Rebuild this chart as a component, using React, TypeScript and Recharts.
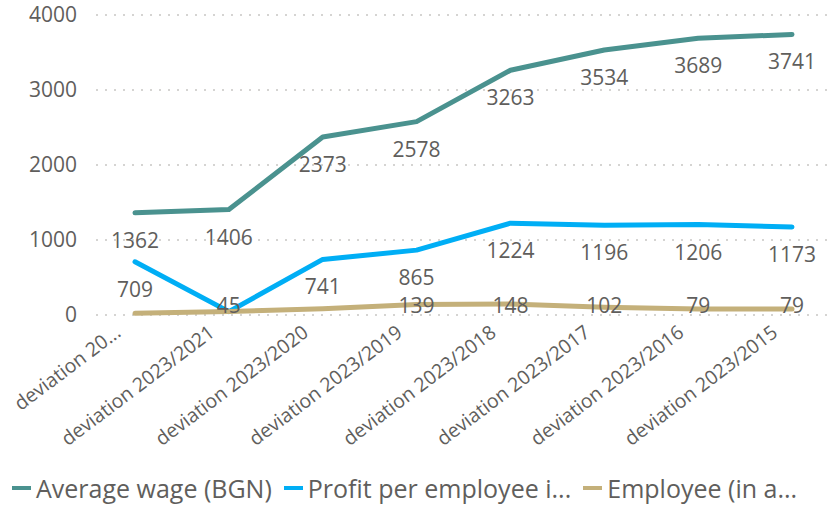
import { LineChart, Line, XAxis, YAxis, CartesianGrid, Legend, LabelList } from 'recharts'

// values
const categories = [
  'deviation 20...',
  'deviation 2023/2021',
  'deviation 2023/2020',
  'deviation 2023/2019',
  'deviation 2023/2018',
  'deviation 2023/2017',
  'deviation 2023/2016',
  'deviation 2023/2015',
]
const averageWage = [1362, 1406, 2373, 2578, 3263, 3534, 3689, 3741]
const profitPerEmployee = [709, 45, 741, 865, 1224, 1196, 1206, 1173]
const employees = [22, 48, 82, 139, 148, 102, 79, 79]
const yTicks = [0, 1000, 2000, 3000, 4000]

const seriesNames = ['Average wage (BGN)', 'Profit per employee i...', 'Employee (in a...']
const seriesColors = ['#4A928F', '#00AEF5', '#C4B07A']
// labels Power BI dropped because they collided
const hiddenEmployeeLabels = [0, 1, 2]

const data = categories.map((name, i) => ({
  name,
  wage: averageWage[i],
  profit: profitPerEmployee[i],
  employees: employees[i],
}))

const FONT = "'Segoe UI', 'Open Sans', sans-serif"
const TEXT = '#605E5C'
const PLOT_BOTTOM = 315

function makeLabel(hidden: number[] = []) {
  return (props: any) => {
    const { value, index } = props
    const x = props.x ?? props.viewBox?.x
    const y = props.y ?? props.viewBox?.y
    if (hidden.includes(index) || x == null || y == null) return null
    // labels sit below the point, pushed up if they'd fall past the axis
    const ly = Math.min(y + 27, PLOT_BOTTOM - 10)
    return (
      <text x={x} y={ly} textAnchor="middle" dominantBaseline="central" fill={TEXT} fontSize={21} fontFamily={FONT}>
        {value}
      </text>
    )
  }
}

function XTick({ x, y, payload }: any) {
  return (
    <text
      transform={`translate(${x - 13},${y + 20}) rotate(-37)`}
      textAnchor="end"
      fill={TEXT}
      fontSize={19.5}
      fontFamily={FONT}
    >
      {payload.value}
    </text>
  )
}

function LegendContent() {
  return (
    <div style={{ height: 42, display: 'flex', alignItems: 'center', paddingLeft: 12, paddingTop: 4, boxSizing: 'border-box', fontFamily: FONT, fontSize: 25, color: TEXT, whiteSpace: 'nowrap' }}>
      {seriesNames.map((name, i) => (
        <div key={name} style={{ display: 'flex', alignItems: 'center', marginRight: 12 }}>
          <span style={{ display: 'inline-block', width: 19, height: 4, background: seriesColors[i], marginRight: 5 }} />
          <span>{name}</span>
        </div>
      ))}
    </div>
  )
}

export default function App() {
  return (
    <div style={{ position: 'absolute', left: 0, top: 0, width: 839, height: 507, background: '#fff' }}>
      <LineChart width={839} height={507} data={data} margin={{ top: 15, right: 11, bottom: 0, left: 0 }}>
        <CartesianGrid vertical={false} stroke="#C8C6C4" strokeDasharray="2 7" strokeWidth={1.5} />
        <XAxis
          dataKey="name"
          padding={{ left: 39, right: 36 }}
          axisLine={false}
          tickLine={false}
          tickSize={0}
          tickMargin={0}
          height={150}
          interval={0}
          tick={<XTick />}
        />
        <YAxis
          domain={[0, 4000]}
          ticks={yTicks}
          width={96}
          axisLine={false}
          tickLine={false}
          tickMargin={13}
          tick={{ fill: TEXT, fontSize: 21, fontFamily: FONT }}
        />
        <Legend verticalAlign="bottom" content={<LegendContent />} />
        <Line dataKey="wage" name={seriesNames[0]} stroke={seriesColors[0]} strokeWidth={5} dot={false} isAnimationActive={false} strokeLinejoin="round" strokeLinecap="round" />
        <Line dataKey="profit" name={seriesNames[1]} stroke={seriesColors[1]} strokeWidth={5} dot={false} isAnimationActive={false} strokeLinejoin="round" strokeLinecap="round" />
        <Line dataKey="employees" name={seriesNames[2]} stroke={seriesColors[2]} strokeWidth={5} dot={false} isAnimationActive={false} strokeLinejoin="round" strokeLinecap="round" />
        {/* label-only copies so the numbers sit above every line */}
        <Line dataKey="wage" stroke="none" dot={false} legendType="none" isAnimationActive={false}>
          <LabelList dataKey="wage" content={makeLabel()} />
        </Line>
        <Line dataKey="profit" stroke="none" dot={false} legendType="none" isAnimationActive={false}>
          <LabelList dataKey="profit" content={makeLabel()} />
        </Line>
        <Line dataKey="employees" stroke="none" dot={false} legendType="none" isAnimationActive={false}>
          <LabelList dataKey="employees" content={makeLabel(hiddenEmployeeLabels)} />
        </Line>
      </LineChart>
    </div>
  )
}
